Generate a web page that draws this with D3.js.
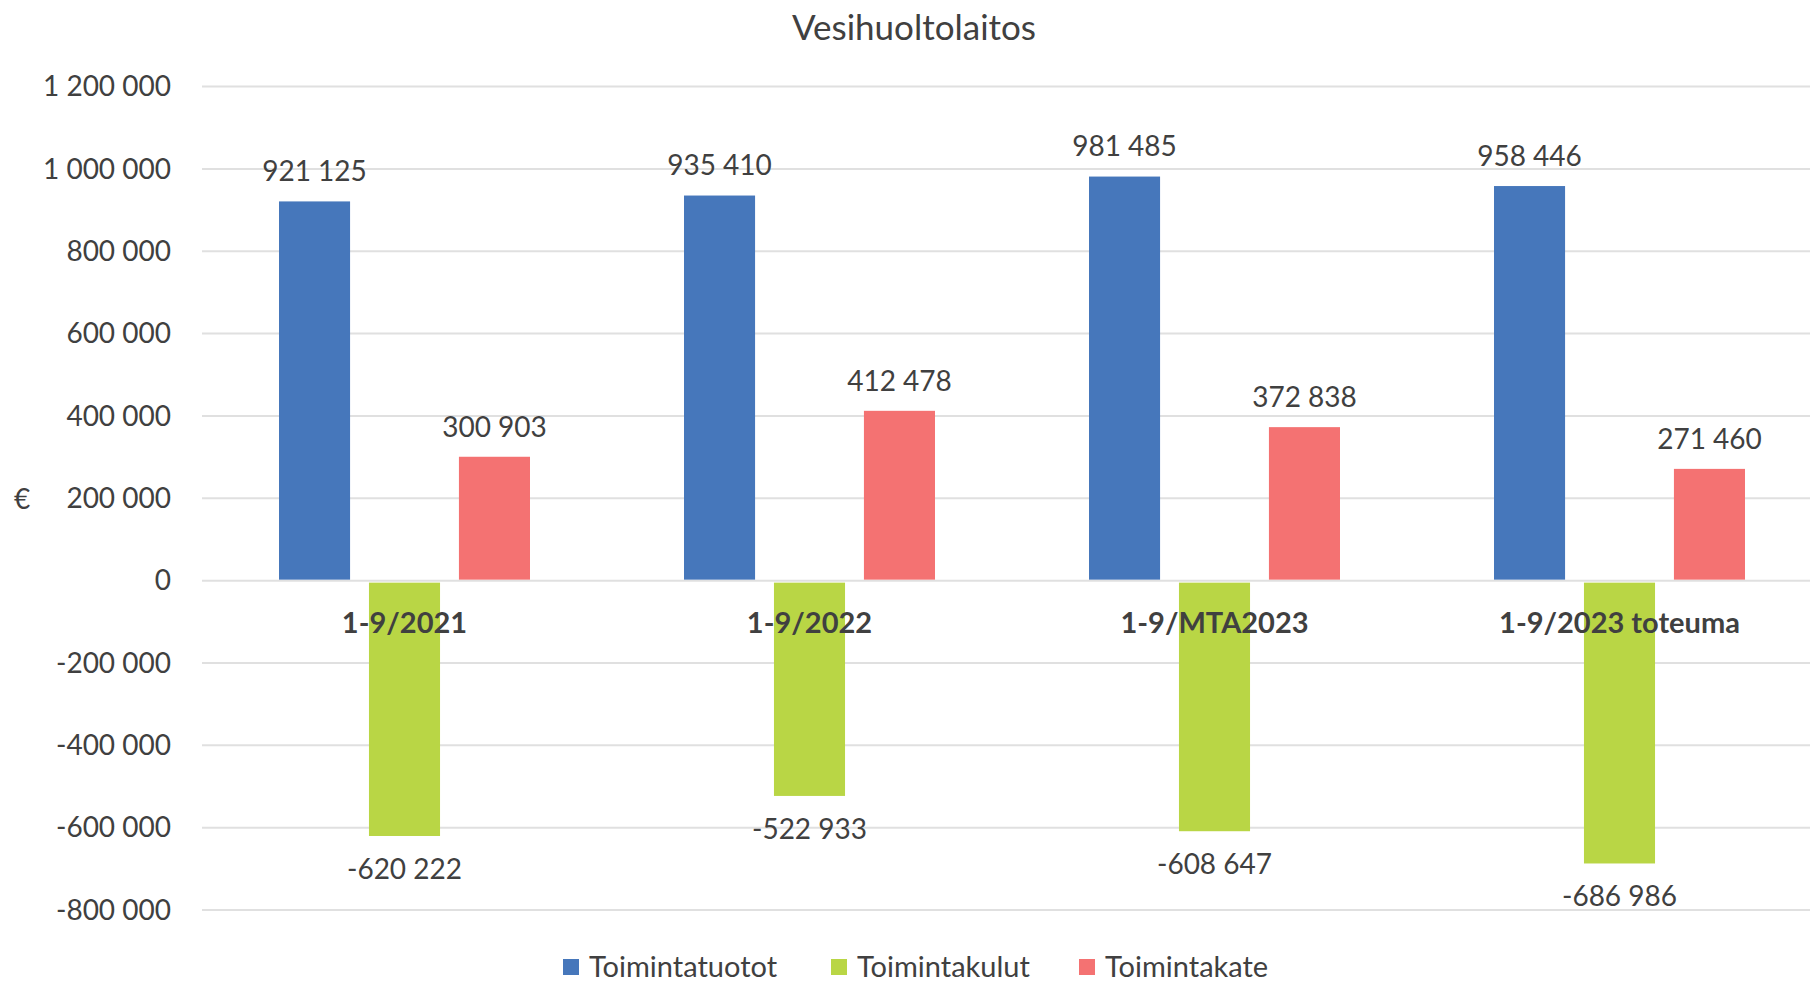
<!DOCTYPE html>
<html>
<head>
<meta charset="utf-8">
<script src="https://cdn.jsdelivr.net/npm/d3@7"></script>
<style>
  body { margin: 0; background: #fff; }
  text { font-family: Lato, "Open Sans", sans-serif; fill: #404040; }
</style>
</head>
<body>
<svg id="chart" width="1810" height="982"></svg>
<script>
// data
var categories = ["1-9/2021", "1-9/2022", "1-9/MTA2023", "1-9/2023 toteuma"];
var seriesNames = ["Toimintatuotot", "Toimintakulut", "Toimintakate"];
var tuotot = [921125, 935410, 981485, 958446];
var kulut = [-620222, -522933, -608647, -686986];
var kate = [300903, 412478, 372838, 271460];
var yTicks = [-800000, -600000, -400000, -200000, 0, 200000, 400000, 600000, 800000, 1000000, 1200000];
var colors = ["#4677BB", "#B9D645", "#F47272"];

var series = [tuotot, kulut, kate];

var svg = d3.select("#chart");
var plotLeft = 202, plotRight = 1822, plotTop = 86.6, plotBottom = 910;

var fmt = function (v) {
  var s = d3.format(",")(Math.abs(v)).replace(/,/g, " ");
  return (v < 0 ? "-" : "") + s;
};

var y = d3.scaleLinear().domain([-800000, 1200000]).range([plotBottom, plotTop]);
var x0 = d3.scaleBand().domain(categories).range([plotLeft, plotRight]).paddingInner(0).paddingOuter(0);
// three bars per group, Excel-like gap
var x1 = d3.scaleBand().domain(seriesNames).range([77, 405 - 77]).paddingInner(0.21).paddingOuter(0);

// gridlines
svg.append("g").selectAll("line")
  .data(yTicks).enter().append("line")
  .attr("x1", plotLeft).attr("x2", 1810)
  .attr("y1", function (d) { return y(d); })
  .attr("y2", function (d) { return y(d); })
  .attr("stroke", "#E0E0E0").attr("stroke-width", 2);

// y tick labels
svg.append("g").selectAll("text")
  .data(yTicks).enter().append("text")
  .attr("x", 171)
  .attr("y", function (d) { return y(d); })
  .attr("dy", "0.35em")
  .attr("text-anchor", "end")
  .style("font-size", "28px")
  .text(fmt);

// bars
var groups = svg.append("g").selectAll("g")
  .data(categories).enter().append("g")
  .attr("transform", function (d) { return "translate(" + x0(d) + ",0)"; });

groups.selectAll("rect")
  .data(function (c, i) { return series.map(function (s, j) { return { name: seriesNames[j], v: s[i], j: j }; }); })
  .enter().append("rect")
  .attr("x", function (d) { return x1(d.name); })
  .attr("width", x1.bandwidth())
  .attr("y", function (d) { return d.v >= 0 ? y(d.v) : y(0) + 2; })
  .attr("height", function (d) { return d.v >= 0 ? y(0) - y(d.v) - 1 : y(d.v) - y(0) - 2; })
  .attr("fill", function (d) { return colors[d.j]; });

// category labels (drawn over bars like in Excel)
svg.append("g").selectAll("text")
  .data(categories).enter().append("text")
  .attr("x", function (d) { return x0(d) + x0.bandwidth() / 2; })
  .attr("y", y(0) + 42)
  .attr("dy", "0.35em")
  .attr("text-anchor", "middle")
  .style("font-size", "29px")
  .style("font-weight", "bold")
  .text(function (d) { return d; });

// data labels
groups.selectAll("text.val")
  .data(function (c, i) { return series.map(function (s, j) { return { name: seriesNames[j], v: s[i], j: j }; }); })
  .enter().append("text")
  .attr("class", "val")
  .attr("x", function (d) { return x1(d.name) + x1.bandwidth() / 2; })
  .attr("y", function (d) { return d.v >= 0 ? y(d.v) - 30 : y(d.v) + 33; })
  .attr("dy", "0.35em")
  .attr("text-anchor", "middle")
  .style("font-size", "28px")
  .text(function (d) { return fmt(d.v); });

// title
svg.append("text")
  .attr("x", 914).attr("y", 28).attr("dy", "0.35em")
  .attr("text-anchor", "middle")
  .style("font-size", "35px")
  .text("Vesihuoltolaitos");

// axis title
svg.append("text")
  .attr("x", 22).attr("y", 499).attr("dy", "0.35em")
  .attr("text-anchor", "middle")
  .style("font-size", "28px")
  .text("€");

// legend
var legX = [563, 831, 1079];
var leg = svg.append("g").selectAll("g")
  .data(seriesNames).enter().append("g")
  .attr("transform", function (d, i) { return "translate(" + legX[i] + ",967)"; });
leg.append("rect")
  .attr("x", 0).attr("y", -8).attr("width", 16).attr("height", 16)
  .attr("fill", function (d, i) { return colors[i]; });
leg.append("text")
  .attr("x", 26).attr("y", 0).attr("dy", "0.35em")
  .style("font-size", "29px")
  .text(function (d) { return d; });
</script>
</body>
</html>
